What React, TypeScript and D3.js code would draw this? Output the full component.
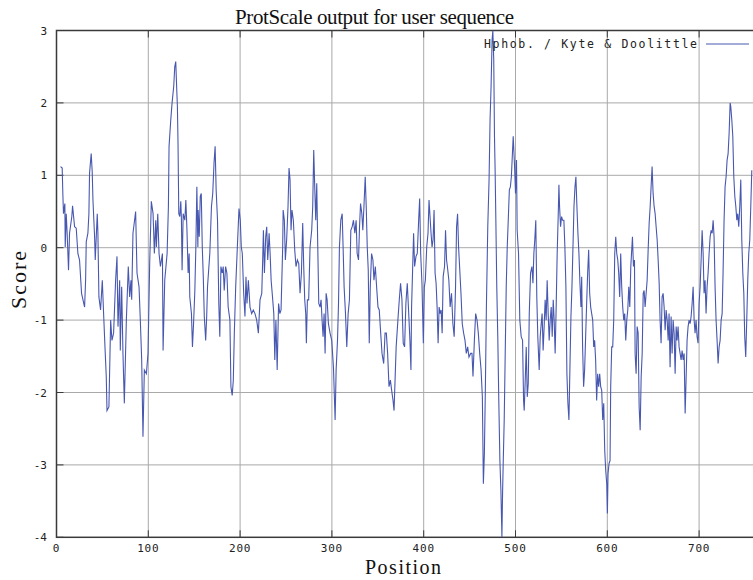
import React from 'react';
import * as d3 from 'd3';

const title = 'ProtScale output for user sequence';
const xLabel = 'Position';
const yLabel = 'Score';
const legendLabel = 'Hphob. / Kyte & Doolittle';
const xTicks = [0, 100, 200, 300, 400, 500, 600, 700];
const yTicks = [-4, -3, -2, -1, 0, 1, 2, 3];

// [position, score]
const hydropathy: [number, number][] = [
  [4.4, 1.12], [6.2, 1.1], [6.9, 0.75], [7.6, 0.47], [9.1, 0.61], [9.5, 0.01], [10.6, 0.47], [11.6, 0.2], [13.1, -0.31], [14.2, 0.2],
  [16.7, 0.43], [17.5, 0.58], [19.7, 0.29], [21.5, 0.27], [23.3, -0.08], [25.1, -0.17], [27.3, -0.63], [30.6, -0.82], [31.7, -0.45], [32.4, 0.08],
  [34.2, 0.2], [35.3, 0.47], [36.0, 1.03], [37.8, 1.3], [38.9, 1.05], [39.7, 0.66], [41.5, 0.15], [42.2, -0.17], [44.4, 0.47], [45.1, 0.2],
  [46.2, -0.68], [48.0, -0.86], [49.9, -0.45], [51.3, -0.91], [52.8, -1.37], [54.2, -1.78], [55.0, -2.25], [57.1, -2.2], [59.0, -1.0], [60.4, -1.28],
  [62.2, -1.18], [64.4, -0.45], [65.9, -0.12], [67.0, -1.09], [68.8, -0.45], [69.5, -1.42], [71.0, -0.54], [72.4, -1.46], [73.9, -2.15], [76.1, -1.0],
  [78.2, -0.26], [79.7, -0.68], [81.1, -0.45], [81.9, -0.72], [83.3, 0.2], [86.2, 0.5], [87.7, -0.35], [89.9, -0.54], [91.3, -1.0], [92.8, -1.55],
  [94.2, -2.61], [95.7, -1.69], [97.9, -1.74], [99.7, -1.46], [101.5, -0.22], [103.3, 0.64], [105.2, 0.47], [106.6, -0.08], [108.1, 0.38], [108.8, 0.01],
  [110.3, 0.47], [111.7, -0.08], [113.2, -0.26], [115.4, -0.08], [116.1, -1.42], [117.9, -0.45], [120.5, -0.08], [121.9, 0.57], [122.6, 1.4],
  [124.5, 1.77], [125.9, 2.0], [127.7, 2.23], [128.8, 2.5], [129.9, 2.57], [131.0, 2.18], [131.7, 1.95], [132.4, 1.42], [133.2, 0.47], [134.3, 0.43],
  [135.4, 0.64], [136.1, 0.38], [136.8, -0.31], [138.0, 0.47], [139.8, 0.38], [140.9, 0.66], [142.0, 0.29], [143.4, -0.35], [144.5, -0.08], [145.2, -0.68],
  [147.0, -0.91], [148.1, -1.37], [149.3, -1.05], [150.7, -0.59], [151.8, 0.01], [152.9, 0.84], [154.0, 0.01], [154.3, 0.52], [155.5, 0.15], [156.6, 0.71],
  [157.7, 0.75], [158.8, 0.01], [159.9, -0.4], [161.0, -0.95], [162.5, -1.28], [163.6, -0.95], [164.5, -0.54], [167.0, -0.08], [168.8, 0.57], [170.2, 0.75],
  [171.6, 1.17], [172.8, 1.4], [173.9, 0.8], [175.4, 0.38], [176.8, -0.77], [177.9, -1.23], [179.1, -0.26], [180.5, -0.35], [181.6, -0.26], [182.7, -0.59],
  [184.2, -0.26], [185.6, -0.35], [187.0, -0.82], [188.9, -1.0], [190.0, -1.92], [191.4, -2.04], [192.6, -1.83], [193.7, -1.18], [195.2, -0.54], [197.0, 0.01],
  [198.8, 0.54], [200.2, 0.38], [201.3, 0.01], [202.4, -0.08], [203.9, -0.63], [205.3, -0.95], [206.4, -0.4], [207.5, -0.77], [209.0, -0.45], [210.8, -0.82],
  [212.6, -0.91], [214.4, -0.86], [216.2, -0.91], [218.1, -1.0], [219.9, -1.18], [221.7, -0.72], [223.6, -0.63], [224.6, -0.17], [225.4, 0.24], [226.5, -0.35],
  [227.9, 0.15], [229.0, 0.29], [230.1, -0.17], [231.6, 0.2], [232.7, -0.08], [233.8, -0.45], [235.3, -0.68], [236.7, -0.91], [237.8, -1.55], [239.0, -1.0],
  [240.4, -1.69], [241.9, -0.77], [243.3, -0.91], [244.6, -0.86],
  [246.4, 0.01], [246.9, 0.52], [248.2, 0.38], [249.3, -0.17], [250.7, 0.11], [252.2, 0.57], [253.3, 1.1], [254.4, 0.94], [255.5, 0.24], [256.5, 0.52],
  [258.0, 0.38], [259.5, -0.03], [260.9, -0.26], [262.4, -0.17], [263.9, -0.22], [265.3, -0.63], [266.8, -0.35], [268.2, 0.34], [269.3, -0.26], [270.4, -0.72],
  [271.5, -0.91], [272.2, -1.32], [273.3, -0.72], [274.7, -0.72], [276.2, 0.01], [278.0, 0.24], [279.1, 0.57], [280.2, 1.35], [281.3, 0.84], [282.4, 0.38],
  [283.5, 0.89], [284.6, 0.01], [285.7, -0.77], [287.1, -0.82], [288.2, -0.72], [289.3, -1.0], [290.4, -1.23], [291.5, -0.91], [292.6, -1.46], [293.7, -0.63],
  [294.8, -0.72], [296.2, -1.05], [298.0, -1.18], [299.8, -1.28], [301.7, -1.65], [302.7, -2.06], [303.5, -2.38], [304.6, -1.69], [306.1, -1.28], [307.2, -0.77],
  [308.2, 0.01], [309.7, 0.38], [311.2, 0.47], [312.2, 0.01], [313.3, -0.54], [314.8, -0.91], [316.2, -1.37], [317.7, -0.91], [319.1, -0.72], [320.6, 0.24],
  [322.1, 0.29], [323.5, 0.38], [325.0, 0.2], [326.4, 0.38], [327.5, -0.08], [329.0, -0.17], [330.1, 0.29], [331.2, 0.61], [332.6, 0.47], [333.7, 0.24],
  [334.9, 0.57], [336.3, 0.98], [337.4, 0.57], [338.5, 0.01], [339.6, -0.31], [340.7, -1.32], [341.8, -0.54], [343.2, -0.08], [344.7, -0.17], [345.8, -0.45],
  [347.3, -0.26], [348.7, -0.54], [350.2, -0.82], [351.6, -0.86], [352.7, -1.09], [354.6, -1.46], [356.4, -1.6], [357.9, -1.18], [359.3, -1.18], [360.7, -1.46],
  [362.2, -1.92], [363.7, -1.83], [365.1, -1.97], [366.6, -2.11], [367.7, -2.25],
  [370.0, -1.37], [371.9, -1.0], [373.4, -0.72], [374.8, -0.49], [376.3, -0.72], [377.7, -1.32], [379.2, -1.37], [380.6, -0.77], [382.1, -0.49], [383.5, -0.86],
  [385.0, -1.28], [386.1, -1.69], [386.8, -0.82], [387.9, -0.31], [389.0, 0.2], [390.1, -0.26], [391.6, -0.12], [393.0, -0.08], [394.5, 0.38], [395.6, 0.68],
  [396.7, -0.08], [398.1, -0.49], [399.6, -1.32], [400.7, -0.54], [401.8, -0.45], [403.3, 0.01], [404.7, 0.2], [405.8, 0.66], [406.9, 0.43], [408.0, 0.2],
  [409.1, 0.01], [410.2, 0.11], [411.3, 0.52], [412.4, -0.35], [413.5, -0.49], [414.6, -0.82], [415.7, -1.32], [416.8, -0.82], [417.9, -0.91], [419.0, -0.86],
  [420.1, -1.18], [421.2, -0.4], [422.7, -0.26], [423.8, 0.24], [424.9, -0.17], [425.8, -0.26], [427.4, -0.45], [428.8, -0.82], [430.3, -0.63], [431.8, -1.05],
  [433.2, -1.23], [434.7, -0.54], [435.8, 0.29], [436.9, 0.47], [438.0, 0.01], [439.1, -0.26], [440.6, -0.63], [442.0, -1.05], [443.5, -1.18], [445.0, -1.28],
  [446.4, -1.46], [447.9, -1.37], [449.3, -1.51], [451.2, -1.46], [452.6, -1.46], [453.7, -1.78], [455.2, -1.28], [456.6, -0.91], [458.1, -1.0], [459.5, -1.18],
  [461.0, -1.46], [462.5, -1.69], [463.9, -2.06], [465.0, -3.26], [466.1, -2.84], [467.2, -1.92], [468.3, -0.82], [469.8, 0.29], [471.2, 0.94], [472.3, 1.77],
  [473.4, 2.23], [474.5, 2.87], [475.3, 3.0], [476.3, 2.6], [477.1, 1.54], [477.8, 1.07], [478.6, 0.38], [479.6, -0.54], [480.7, -1.23], [481.8, -2.11],
  [483.0, -2.94], [484.1, -3.35], [485.2, -4.0], [485.9, -3.4], [486.6, -2.98], [487.7, -2.38], [488.8, -1.46], [489.9, -0.54], [491.0, 0.01], [492.1, 0.38],
  [493.3, 0.8], [494.4, 0.84], [495.5, 0.98],
  [497.5, 1.54], [499.0, 1.12], [500.0, 0.75], [501.1, 1.21], [501.8, 0.24], [503.3, -0.08], [504.7, -1.0], [506.2, -1.23], [507.7, -1.28], [508.8, -2.11],
  [509.5, -2.25], [510.6, -1.83], [511.7, -1.37], [512.8, -2.06], [513.9, -1.88], [515.0, -0.91], [516.4, -0.35], [517.9, -0.26], [519.0, -0.49], [520.0, -0.08],
  [521.0, 0.11], [522.1, 0.38], [523.2, -0.68], [524.3, -1.23], [525.8, -1.69], [526.9, -1.23], [528.0, -1.05], [529.0, -0.91], [530.1, -1.42], [531.2, -1.09],
  [532.3, -0.72], [533.4, -1.0], [534.5, -0.45], [535.6, -0.91], [536.7, -1.28], [537.8, -1.0], [538.9, -0.82], [540.0, -1.23], [541.1, -0.72], [542.1, -1.0],
  [543.2, -1.46], [544.3, -0.82], [545.4, -0.08], [546.5, 0.43], [547.3, 0.87], [548.0, 0.57], [549.1, 0.29], [550.2, 0.43], [551.3, 0.38], [552.7, 0.38],
  [553.8, 0.01], [554.9, -0.54], [556.0, -1.74], [557.1, -2.15], [558.2, -2.38], [559.3, -1.65], [560.4, -0.95], [561.5, -0.54], [562.6, 0.01], [563.7, 0.57],
  [564.8, 0.84], [565.8, 0.98], [566.9, 0.57], [568.0, 0.2], [569.1, -0.08], [570.2, -0.49], [571.3, -0.82], [572.1, -0.4], [573.1, -1.37], [574.2, -1.92],
  [575.3, -1.69], [576.4, -1.23], [577.5, -0.77], [578.6, -0.35], [579.7, -0.03], [580.8, -0.63], [581.9, -0.82], [583.0, -0.91], [584.1, -1.0], [585.2, -1.37],
  [586.2, -1.28], [587.3, -1.55], [588.4, -2.11], [589.5, -1.74], [590.6, -1.92], [591.7, -1.74], [592.8, -1.92], [593.9, -1.97], [595.0, -2.38], [596.1, -2.15],
  [597.2, -2.8], [598.3, -3.08], [599.4, -3.26], [600.1, -3.67], [600.8, -3.12], [601.9, -2.98], [603.0, -2.94], [603.7, -1.92], [604.8, -1.37], [605.9, -1.37],
  [607.0, -1.0], [608.1, -0.08], [609.2, 0.15], [610.3, -0.08], [611.4, -0.17], [612.4, -0.35], [613.5, -0.68], [614.6, -0.08], [615.7, -0.54], [616.8, -0.82],
  [617.9, -1.0], [619.0, -0.91], [620.1, -1.28], [621.2, -1.0], [622.3, -0.86], [623.4, -0.54], [624.5, -0.82], [625.6, -0.26],
  [627.4, 0.15], [628.5, -0.26], [629.6, -0.17], [630.3, -1.46], [631.4, -1.74], [632.5, -1.09], [633.6, -1.18], [634.7, -2.2], [635.8, -2.52], [636.9, -1.78],
  [638.0, -1.46], [639.1, -0.63], [640.1, -0.59], [641.2, -0.82], [642.3, -0.63], [643.4, -0.45], [644.5, -0.03], [645.6, 0.34], [646.7, 0.57], [647.7, 0.84],
  [648.8, 1.12], [649.9, 0.75], [651.0, 0.57], [652.1, 0.47], [653.2, 0.29], [654.3, 0.11], [655.4, -0.17], [656.5, -0.49], [657.5, -1.0], [658.6, -1.32],
  [659.7, -0.68], [660.8, -0.63], [661.9, -0.82], [663.0, -1.14], [664.1, -0.86], [665.2, -1.0], [666.3, -1.28], [667.3, -0.91], [668.4, -1.65], [669.5, -0.95],
  [670.6, -1.46], [671.7, -1.0], [672.8, -1.18], [673.9, -1.74], [675.0, -1.09], [676.0, -1.28], [677.1, -1.09], [678.2, -1.37], [679.3, -1.46], [680.4, -1.55],
  [681.5, -1.42], [682.6, -1.55], [683.7, -1.46], [684.8, -2.29], [685.8, -1.83], [686.9, -1.28], [688.0, -1.09], [689.1, -1.0], [690.2, -1.05], [691.3, -0.95],
  [692.4, -0.77], [693.5, -0.54], [694.6, -1.0], [695.6, -1.18], [696.7, -1.0], [697.8, -1.23], [698.9, -1.32], [700.0, -0.77], [701.1, -0.54], [702.2, -0.17],
  [703.3, 0.24], [704.4, -0.08], [705.4, -0.63], [706.5, -0.45], [707.6, -0.91], [708.7, -0.54], [709.8, -0.35], [710.9, -0.08], [712.0, 0.15], [713.1, 0.24],
  [714.2, 0.2], [715.3, 0.38], [716.3, 0.15], [717.4, -0.54], [718.5, -1.0], [719.6, -1.28], [720.7, -1.6], [721.8, -1.37], [722.9, -1.28], [724.0, -1.0],
  [725.1, -0.91], [726.1, -0.35], [727.2, 0.38], [728.3, 0.84], [729.4, 0.98], [730.5, 1.21], [731.6, 1.3], [732.7, 1.58], [733.8, 2.0], [734.5, 1.95],
  [735.6, 1.77], [736.7, 1.54], [737.8, 0.98], [738.9, 0.71], [740.0, 0.57], [741.1, 0.38], [742.1, 0.47], [743.2, 0.29], [744.3, 0.57], [745.4, 0.94],
  [746.5, 0.11], [747.6, -0.35], [748.7, -0.63], [749.7, -1.23], [750.8, -1.51], [751.9, -1.0], [753.0, -0.45], [754.1, -0.08], [755.2, 0.11], [756.3, 0.57],
  [757.4, 1.07],
];

const W = 753;
const H = 580;
const lineColor = '#4858b0';
const gridColor = '#a9a9a9';
const frameColor = '#3a3a3a';
const monoFont = '"DejaVu Sans Mono", "Liberation Mono", monospace';
const serifFont = '"Liberation Serif", "DejaVu Serif", serif';

export default function App() {
  const left = 56.5;
  const top = 30.5;
  const bottom = 537.3;
  const xMax = 770;
  const x = d3.scaleLinear().domain([0, xMax]).range([left, left + xMax * 0.918]);
  const y = d3.scaleLinear().domain([-4, 3]).range([bottom, top]);
  const right = x(xMax);
  const path = d3
    .line<[number, number]>()
    .x((d) => x(d[0]))
    .y((d) => y(d[1]))(hydropathy) || '';

  return (
    <svg
      width={W}
      height={H}
      style={{ position: 'absolute', left: 0, top: 0, background: '#fff', overflow: 'hidden' }}
    >
      <rect x={0} y={0} width={W} height={H} fill="#fff" />
      {/* grid */}
      {xTicks.slice(1).map((t) => (
        <line key={'gx' + t} x1={x(t)} x2={x(t)} y1={top} y2={bottom} stroke={gridColor} strokeWidth={1} />
      ))}
      {yTicks.slice(1, -1).map((t) => (
        <line key={'gy' + t} x1={left} x2={right} y1={y(t)} y2={y(t)} stroke={gridColor} strokeWidth={1} />
      ))}
      {/* ticks */}
      {xTicks.map((t) => (
        <g key={'tx' + t}>
          <line x1={x(t)} x2={x(t)} y1={bottom} y2={bottom - 7} stroke={frameColor} strokeWidth={1} />
          <line x1={x(t)} x2={x(t)} y1={top} y2={top + 7} stroke={frameColor} strokeWidth={1} />
          <text
            x={x(t)}
            y={552}
            textAnchor="middle"
            fontFamily={monoFont}
            fontSize={11}
            letterSpacing={0.8}
            fill="#222"
          >
            {t}
          </text>
        </g>
      ))}
      {yTicks.map((t) => (
        <g key={'ty' + t}>
          <line x1={left} x2={left + 7} y1={y(t)} y2={y(t)} stroke={frameColor} strokeWidth={1} />
          <text
            x={47}
            y={y(t) + 4}
            textAnchor="end"
            fontFamily={monoFont}
            fontSize={11}
            fill="#222"
          >
            {t}
          </text>
        </g>
      ))}
      {/* frame */}
      <rect
        x={left}
        y={top}
        width={right - left}
        height={bottom - top}
        fill="none"
        stroke={frameColor}
        strokeWidth={1.5}
      />
      {/* data */}
      <defs>
        <clipPath id="plotClip">
          <rect x={left} y={top} width={right - left} height={bottom - top} />
        </clipPath>
      </defs>
      <path d={path} fill="none" stroke={lineColor} strokeWidth={1.1} clipPath="url(#plotClip)" />
      {/* legend */}
      <text
        x={697}
        y={48}
        textAnchor="end"
        fontFamily={monoFont}
        fontSize={11.5}
        textLength={213}
        lengthAdjust="spacing"
        fill="#222"
      >
        {legendLabel}
      </text>
      <line x1={706} x2={749} y1={44} y2={44} stroke={lineColor} strokeWidth={1.2} />
      {/* titles */}
      <text x={374.5} y={24} textAnchor="middle" fontFamily={serifFont} fontSize={21} textLength={279} lengthAdjust="spacing" fill="#111">
        {title}
      </text>
      <text x={403} y={574} textAnchor="middle" fontFamily={serifFont} fontSize={20} textLength={76} lengthAdjust="spacing" fill="#111">
        {xLabel}
      </text>
      <text
        transform={`translate(26, 280) rotate(-90)`}
        textAnchor="middle"
        fontFamily={serifFont}
        fontSize={22}
        textLength={58}
        lengthAdjust="spacing"
        fill="#111"
      >
        {yLabel}
      </text>
    </svg>
  );
}
